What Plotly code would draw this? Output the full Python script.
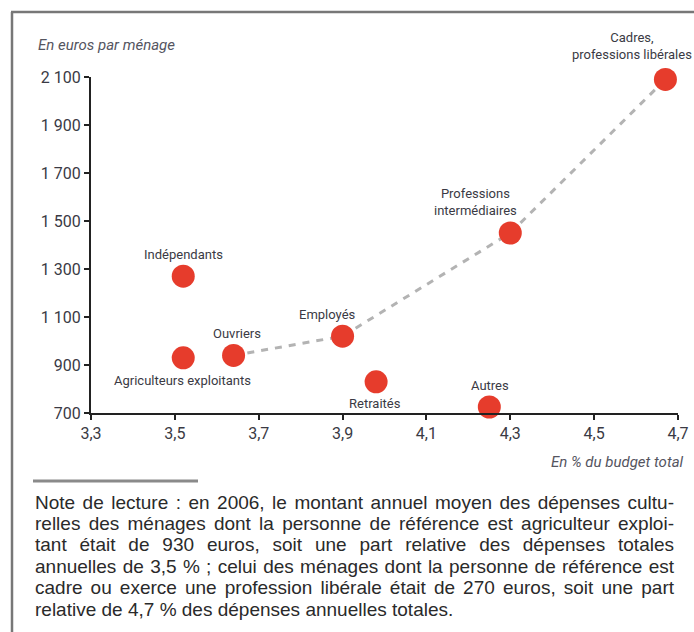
import json
import plotly.graph_objects as go

# ---- data ----
categories = ["Cadres,<br>professions libérales", "Professions<br>intermédiaires", "Indépendants",
              "Ouvriers", "Employés", "Agriculteurs exploitants", "Retraités", "Autres"]
share_pct = [4.67, 4.30, 3.52, 3.64, 3.90, 3.52, 3.98, 4.25]
euros = [2090, 1450, 1270, 940, 1020, 930, 830, 725]

trend_names = ["Ouvriers", "Employés", "Professions<br>intermédiaires", "Cadres,<br>professions libérales"]

x_ticks = [3.3, 3.5, 3.7, 3.9, 4.1, 4.3, 4.5, 4.7]
x_tick_labels = ["3,3", "3,5", "3,7", "3,9", "4,1", "4,3", "4,5", "4,7"]
y_ticks = [700, 900, 1100, 1300, 1500, 1700, 1900, 2100]
y_tick_labels = ["700", "900", "1 100", "1 300", "1 500", "1 700", "1 900", "2 100"]

note_lines = [
    "Note de lecture : en 2006, le montant annuel moyen des dépenses cultu-",
    "relles des ménages dont la personne de référence est agriculteur exploi-",
    "tant était de 930 euros, soit une part relative des dépenses totales",
    "annuelles de 3,5 % ; celui des ménages dont la personne de référence est",
    "cadre ou exerce une profession libérale était de 270 euros, soit une part",
    "relative de 4,7 % des dépenses annuelles totales.",
]

# ---- layout geometry (pixels) ----
W, H = 694, 632
L, R, T, B = 91, 16, 77, 219
PW, PH = W - L - R, H - T - B


def px(xp):
    return (xp - L) / PW


def py(yp):
    return (H - B - yp) / PH


COND = "Roboto, sans-serif"
TXT = "#3a3a44"
RED = "#e63c2c"

fig = go.Figure()

idx = {c: i for i, c in enumerate(categories)}
fig.add_trace(go.Scatter(
    x=[share_pct[idx[n]] for n in trend_names],
    y=[euros[idx[n]] for n in trend_names],
    mode="lines", line=dict(color="#b3b3b3", width=3, dash="7px,7px"),
    hoverinfo="skip", showlegend=False, cliponaxis=False))

fig.add_trace(go.Scatter(
    x=share_pct, y=euros, mode="markers",
    marker=dict(size=23, color=RED, line=dict(width=0)),
    text=categories, hoverinfo="text", showlegend=False, cliponaxis=False))

# label offsets (pixels) relative to each point
offsets = {
    "Cadres,<br>professions libérales": (-33, 33),
    "Professions<br>intermédiaires": (-35, 31),
    "Indépendants": (0, 22),
    "Ouvriers": (3, 22),
    "Employés": (-15, 22),
    "Agriculteurs exploitants": (-1, -23),
    "Retraités": (-1, -22),
    "Autres": (1, 22),
}
annotations = []
for c, xv, yv in zip(categories, share_pct, euros):
    dx, dy = offsets[c]
    annotations.append(dict(x=xv, y=yv, xref="x", yref="y", text=c, showarrow=False,
                            xshift=dx, yshift=dy, xanchor="center", yanchor="middle",
                            align="center", font=dict(family=COND, size=13, color=TXT)))

annotations.append(dict(x=px(36), y=py(45), xref="paper", yref="paper", text="<i>En euros par ménage</i>",
                        showarrow=False, xanchor="left", yanchor="middle",
                        font=dict(family=COND, size=15, color="#55555f")))
annotations.append(dict(x=px(686), y=py(462), xref="paper", yref="paper", text="<i>En % du budget total</i>",
                        showarrow=False, xanchor="right", yanchor="middle",
                        font=dict(family=COND, size=15, color="#55555f")))

for i, line in enumerate(note_lines):
    annotations.append(dict(x=px(33), y=py(502 + i * 21.4), xref="paper", yref="paper", text=line,
                            showarrow=False, xanchor="left", yanchor="middle", align="left",
                            font=dict(family="Liberation Sans, Arial, sans-serif", size=19, color="#2a2a2a")))

shapes = [
    dict(type="line", xref="paper", yref="paper", x0=px(33), x1=px(198), y0=py(481), y1=py(481),
         line=dict(color="#8a8a8a", width=3)),
    dict(type="line", xref="paper", yref="paper", x0=px(12), x1=px(12), y0=py(12), y1=py(640),
         line=dict(color="#777777", width=2.5)),
    dict(type="line", xref="paper", yref="paper", x0=px(11), x1=px(700), y0=py(12), y1=py(12),
         line=dict(color="#777777", width=2.5)),
]

fig.update_layout(
    width=W, height=H, autosize=False,
    margin=dict(l=L, r=R, t=T, b=B, pad=0),
    paper_bgcolor="white", plot_bgcolor="white",
    annotations=annotations, shapes=shapes,
    xaxis=dict(range=[3.3, 4.7], tickvals=x_ticks, ticktext=x_tick_labels, automargin=False,
               showgrid=False, zeroline=False, showline=True, linecolor="#222222", linewidth=2,
               ticks="outside", ticklen=5, tickwidth=1.5, tickcolor="#222222",
               tickfont=dict(family=COND, size=16, color=TXT), fixedrange=True),
    yaxis=dict(range=[700, 2100], tickvals=y_ticks, ticktext=y_tick_labels, automargin=False,
               showgrid=False, zeroline=False, showline=True, linecolor="#222222", linewidth=2,
               ticks="outside", ticklen=5, tickwidth=1.5, tickcolor="#222222",
               tickfont=dict(family=COND, size=16, color=TXT), fixedrange=True),
)

# justify the note lines (all but the last) to the full text width, remove page margin
justify = json.dumps(note_lines[:-1])
post = """
document.body.style.margin = '0';
document.body.style.overflow = 'hidden';
var lines = %s;
var target = %d;
document.querySelectorAll('.annotation-text').forEach(function(t) {
  var s = t.textContent;
  if (lines.indexOf(s) >= 0) {
    var n = (s.match(/ /g) || []).length;
    var w = t.getComputedTextLength();
    if (n > 0 && w < target) {
      t.style.wordSpacing = ((target - w) / n) + 'px';
    }
  }
});
""" % (justify, 672 - 33)

fig.write_html("out.html", post_script=post,
               config={"displayModeBar": False, "responsive": False})
